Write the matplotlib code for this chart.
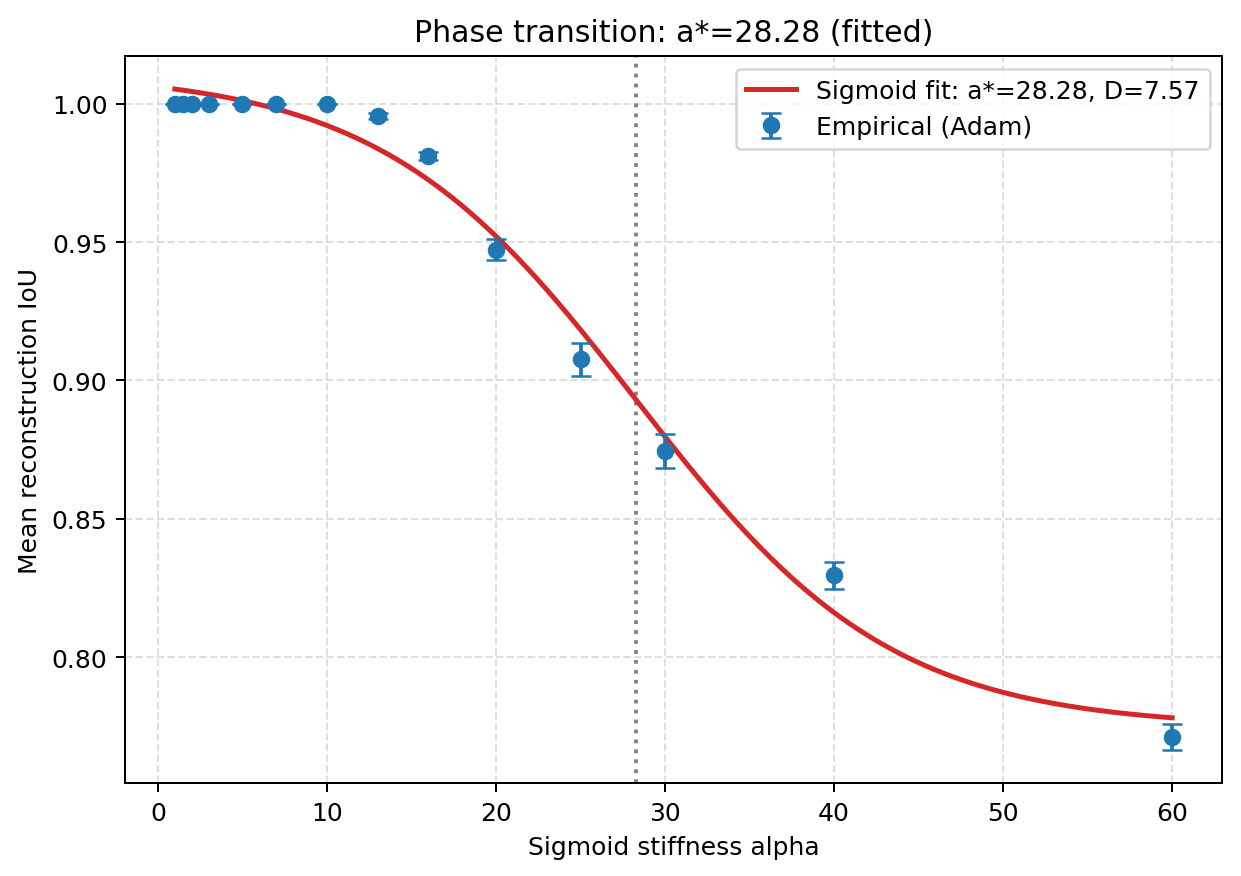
import numpy as np
import matplotlib
matplotlib.use("Agg")
import matplotlib.pyplot as plt

# Empirical data
alpha = [1, 1.5, 2, 3, 5, 7, 10, 13, 16, 20, 25, 30, 40, 60]
iou_mean = [1.0, 1.0, 1.0, 1.0, 1.0, 1.0, 1.0, 0.9956, 0.9811, 0.9473, 0.9076, 0.8745, 0.8295, 0.7711]
iou_err = [0.0, 0.0, 0.0, 0.0, 0.0, 0.0, 0.0, 0.001, 0.0015, 0.0038, 0.006, 0.006, 0.005, 0.0047]

# Fitted sigmoid parameters
a_star = 28.28
D = 7.57
y_low = 0.7745
y_high = 1.0116

DPI = 180
fig = plt.figure(figsize=(1241 / DPI, 877 / DPI), dpi=DPI)
ax = fig.add_axes([0.1007, 0.106, 0.884, 0.829])

xs = np.linspace(min(alpha), max(alpha), 400)
ys = y_low + (y_high - y_low) / (1 + np.exp((xs - a_star) / D))

ax.plot(xs, ys, color='#d62728', lw=2, label=f'Sigmoid fit: a*={a_star:.2f}, D={D:.2f}', zorder=3)
ax.errorbar(alpha, iou_mean, yerr=iou_err, fmt='o', color='#1f77b4', capsize=4,
            label='Empirical (Adam)', zorder=4)
ax.axvline(a_star, color='gray', ls=':', lw=1.5, zorder=2)

ax.set_xlabel('Sigmoid stiffness alpha')
ax.set_ylabel('Mean reconstruction IoU')
ax.set_title(f'Phase transition: a*={a_star:.2f} (fitted)')
ax.grid(True, ls='--', alpha=0.4)
ax.legend(loc='upper right')

fig.savefig('out.png', dpi=DPI)
